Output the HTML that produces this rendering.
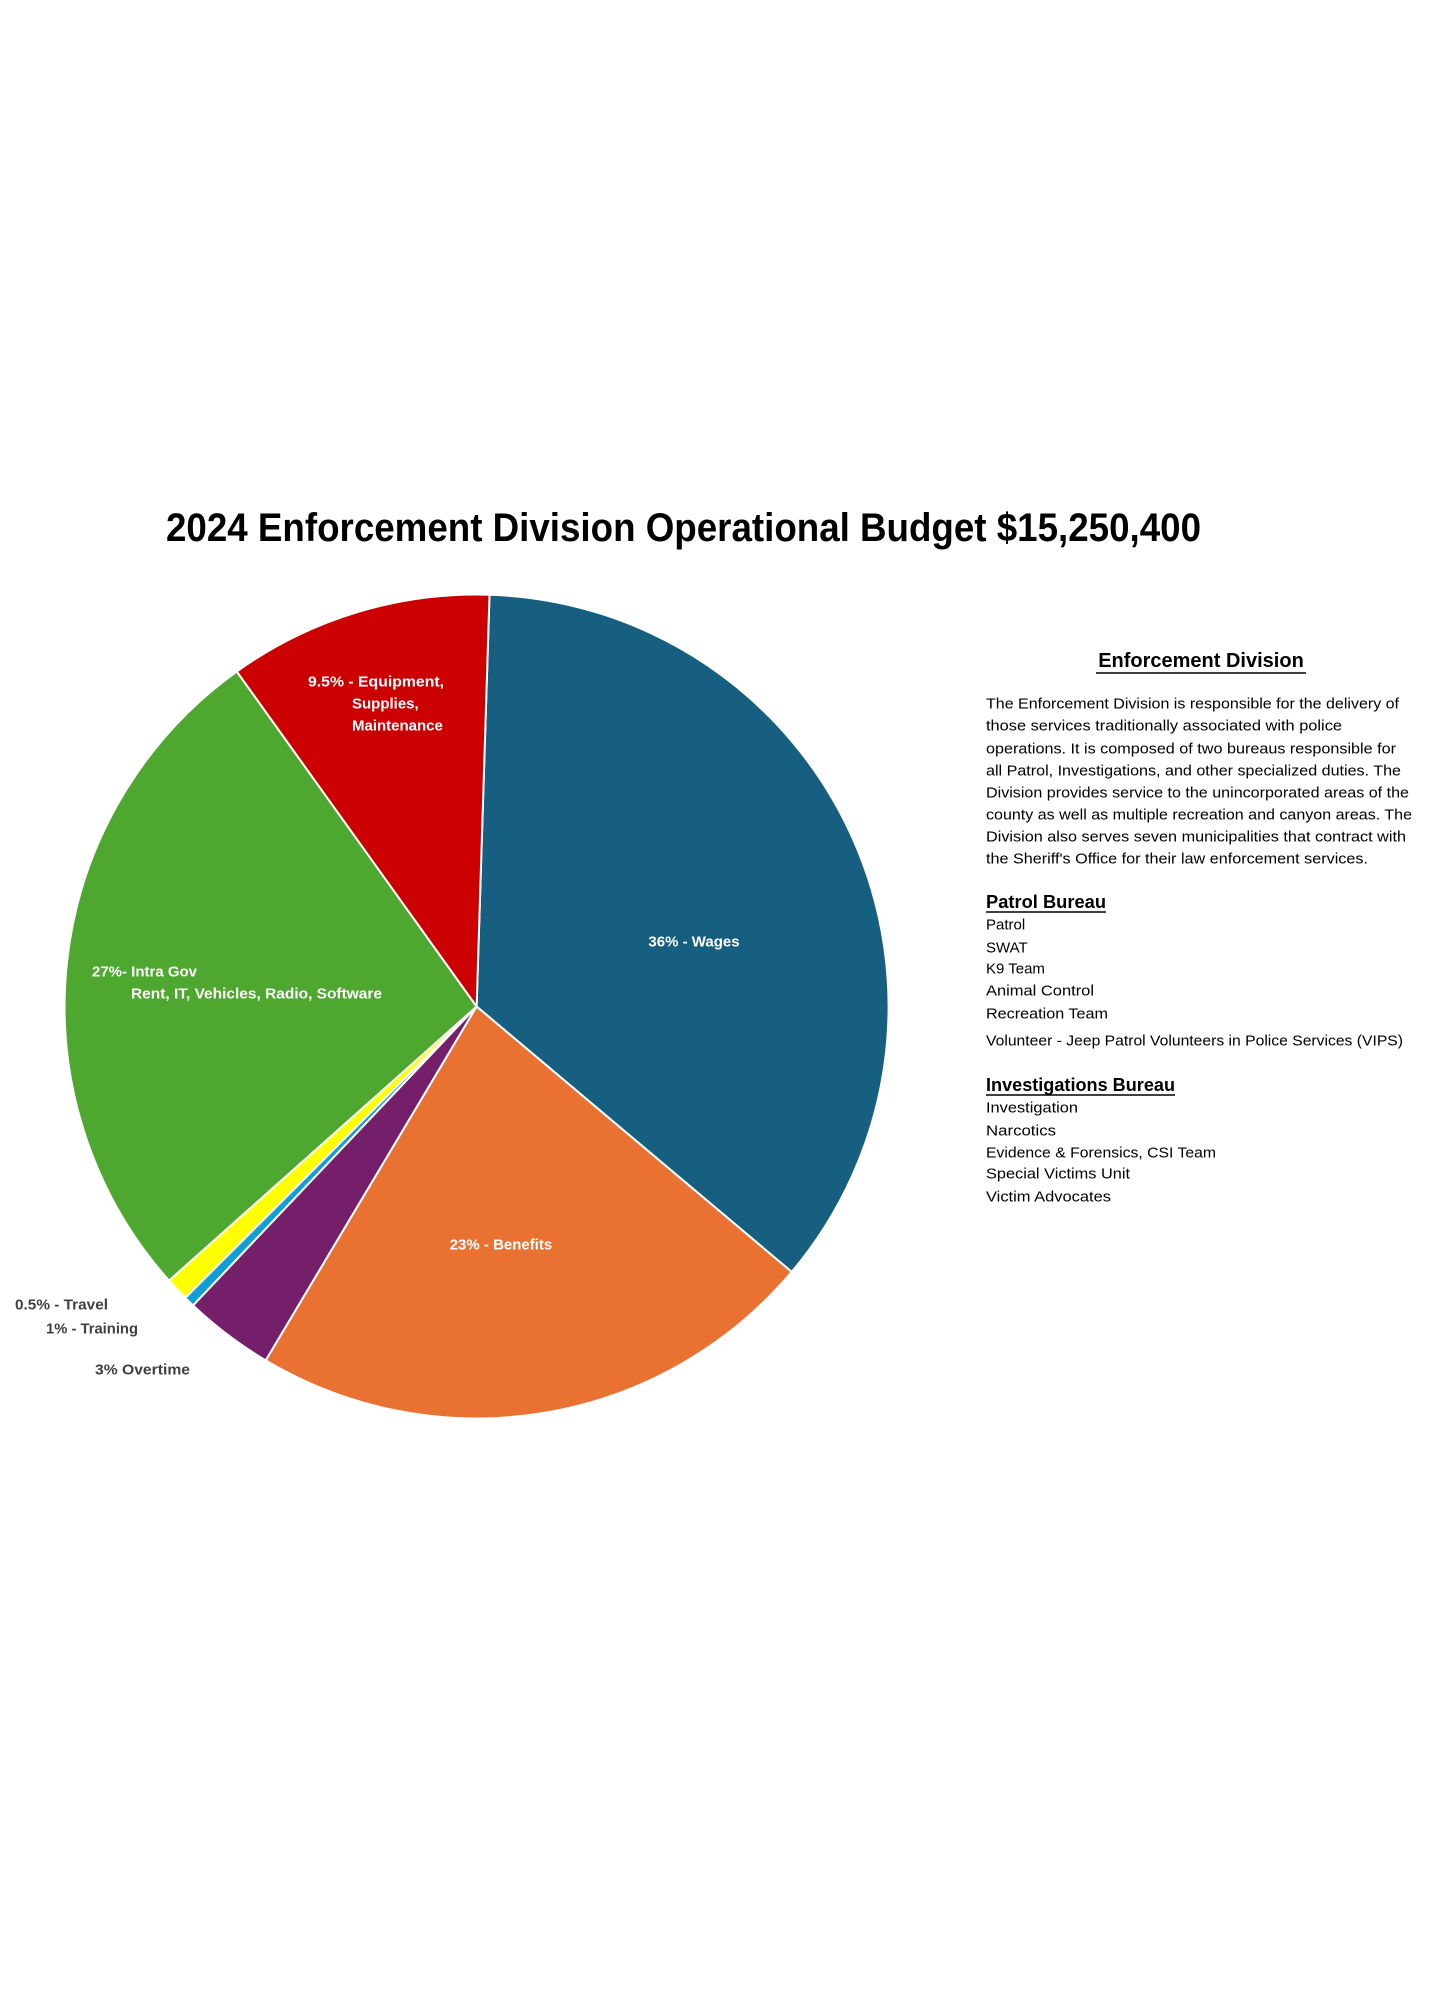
<!DOCTYPE html>
<html><head><meta charset="utf-8"><style>
html,body{margin:0;padding:0;background:#fff}
svg{display:block}
text{font-family:"Liberation Sans Narrow","Liberation Sans",sans-serif}
</style></head><body>
<svg width="1440" height="2000" viewBox="0 0 1440 2000" xmlns="http://www.w3.org/2000/svg">
<rect width="1440" height="2000" fill="#fff"/>
<text x="166" y="541" font-size="40" font-weight="bold" fill="#000" textLength="1035" lengthAdjust="spacingAndGlyphs">2024 Enforcement Division Operational Budget  $15,250,400</text>
<g stroke="#fff" stroke-width="2" stroke-linejoin="round">
<path d="M476.6,1006.5 L489.5,594.7 A412,412 0 0 1 791.7,1271.9 Z" fill="#175F80"/>
<path d="M476.6,1006.5 L791.7,1271.9 A412,412 0 0 1 265.7,1360.4 Z" fill="#E97132"/>
<path d="M476.6,1006.5 L265.7,1360.4 A412,412 0 0 1 193.0,1305.4 Z" fill="#751F6A"/>
<path d="M476.6,1006.5 L193.0,1305.4 A412,412 0 0 1 185.3,1297.8 Z" fill="#0F9ED5"/>
<path d="M476.6,1006.5 L185.3,1297.8 A412,412 0 0 1 169.0,1280.6 Z" fill="#FFFF00"/>
<path d="M476.6,1006.5 L169.0,1280.6 A412,412 0 0 1 236.8,671.5 Z" fill="#4EA72E"/>
<path d="M476.6,1006.5 L236.8,671.5 A412,412 0 0 1 489.5,594.7 Z" fill="#CC0000"/>
</g>
<g font-size="15" font-weight="bold" fill="#fff" dominant-baseline="central">
<text x="694" y="942" text-anchor="middle">36% - Wages</text>
<text x="501" y="1245" text-anchor="middle">23% - Benefits</text>
<text x="92" y="972">27%- Intra Gov</text>
<text x="131" y="994" textLength="251" lengthAdjust="spacingAndGlyphs">Rent, IT, Vehicles, Radio, Software</text>
<text x="308" y="682" textLength="136" lengthAdjust="spacingAndGlyphs">9.5% - Equipment,</text>
<text x="352" y="704">Supplies,</text>
<text x="352" y="726">Maintenance</text>
</g>
<g font-size="15" font-weight="bold" fill="#404040" dominant-baseline="central">
<text x="15" y="1305" textLength="93" lengthAdjust="spacingAndGlyphs">0.5% - Travel</text>
<text x="46" y="1329" textLength="92" lengthAdjust="spacingAndGlyphs">1% - Training</text>
<text x="95" y="1370" textLength="95" lengthAdjust="spacingAndGlyphs">3% Overtime</text>
</g>
<g fill="#000" dominant-baseline="central">
<text x="1201" y="661" font-size="20" font-weight="bold" text-anchor="middle">Enforcement Division</text>
<line x1="1096" y1="673" x2="1306" y2="673" stroke="#000" stroke-width="1.5"/>
<g font-size="15">
<text x="986" y="704" textLength="413" lengthAdjust="spacingAndGlyphs">The Enforcement Division is responsible for the delivery of</text>
<text x="986" y="726" textLength="356" lengthAdjust="spacingAndGlyphs">those services traditionally associated with police</text>
<text x="986" y="749" textLength="410" lengthAdjust="spacingAndGlyphs">operations. It is composed of two bureaus responsible for</text>
<text x="986" y="771" textLength="415" lengthAdjust="spacingAndGlyphs">all Patrol, Investigations, and other specialized duties. The</text>
<text x="986" y="793" textLength="423" lengthAdjust="spacingAndGlyphs">Division provides service to the unincorporated areas of the</text>
<text x="986" y="815" textLength="426" lengthAdjust="spacingAndGlyphs">county as well as multiple recreation and canyon areas. The</text>
<text x="986" y="837" textLength="420" lengthAdjust="spacingAndGlyphs">Division also serves seven municipalities that contract with</text>
<text x="986" y="859" textLength="382" lengthAdjust="spacingAndGlyphs">the Sheriff's Office for their law enforcement services.</text>
</g>
<text x="986" y="902" font-size="18" font-weight="bold" textLength="120" lengthAdjust="spacingAndGlyphs">Patrol Bureau</text>
<line x1="986" y1="912" x2="1106" y2="912" stroke="#000" stroke-width="1.5"/>
<g font-size="15">
<text x="986" y="925">Patrol</text>
<text x="986" y="948">SWAT</text>
<text x="986" y="969">K9 Team</text>
<text x="986" y="991" textLength="108" lengthAdjust="spacingAndGlyphs">Animal Control</text>
<text x="986" y="1014" textLength="122" lengthAdjust="spacingAndGlyphs">Recreation Team</text>
<text x="986" y="1041" textLength="417" lengthAdjust="spacingAndGlyphs">Volunteer - Jeep Patrol Volunteers in Police Services (VIPS)</text>
</g>
<text x="986" y="1085" font-size="18" font-weight="bold" textLength="189" lengthAdjust="spacingAndGlyphs">Investigations Bureau</text>
<line x1="986" y1="1095" x2="1175" y2="1095" stroke="#000" stroke-width="1.5"/>
<g font-size="15">
<text x="986" y="1108" textLength="92" lengthAdjust="spacingAndGlyphs">Investigation</text>
<text x="986" y="1131" textLength="70" lengthAdjust="spacingAndGlyphs">Narcotics</text>
<text x="986" y="1153" textLength="230" lengthAdjust="spacingAndGlyphs">Evidence &amp; Forensics, CSI Team</text>
<text x="986" y="1174" textLength="144" lengthAdjust="spacingAndGlyphs">Special Victims Unit</text>
<text x="986" y="1197" textLength="125" lengthAdjust="spacingAndGlyphs">Victim Advocates</text>
</g>
</g>
</svg>
</body></html>
